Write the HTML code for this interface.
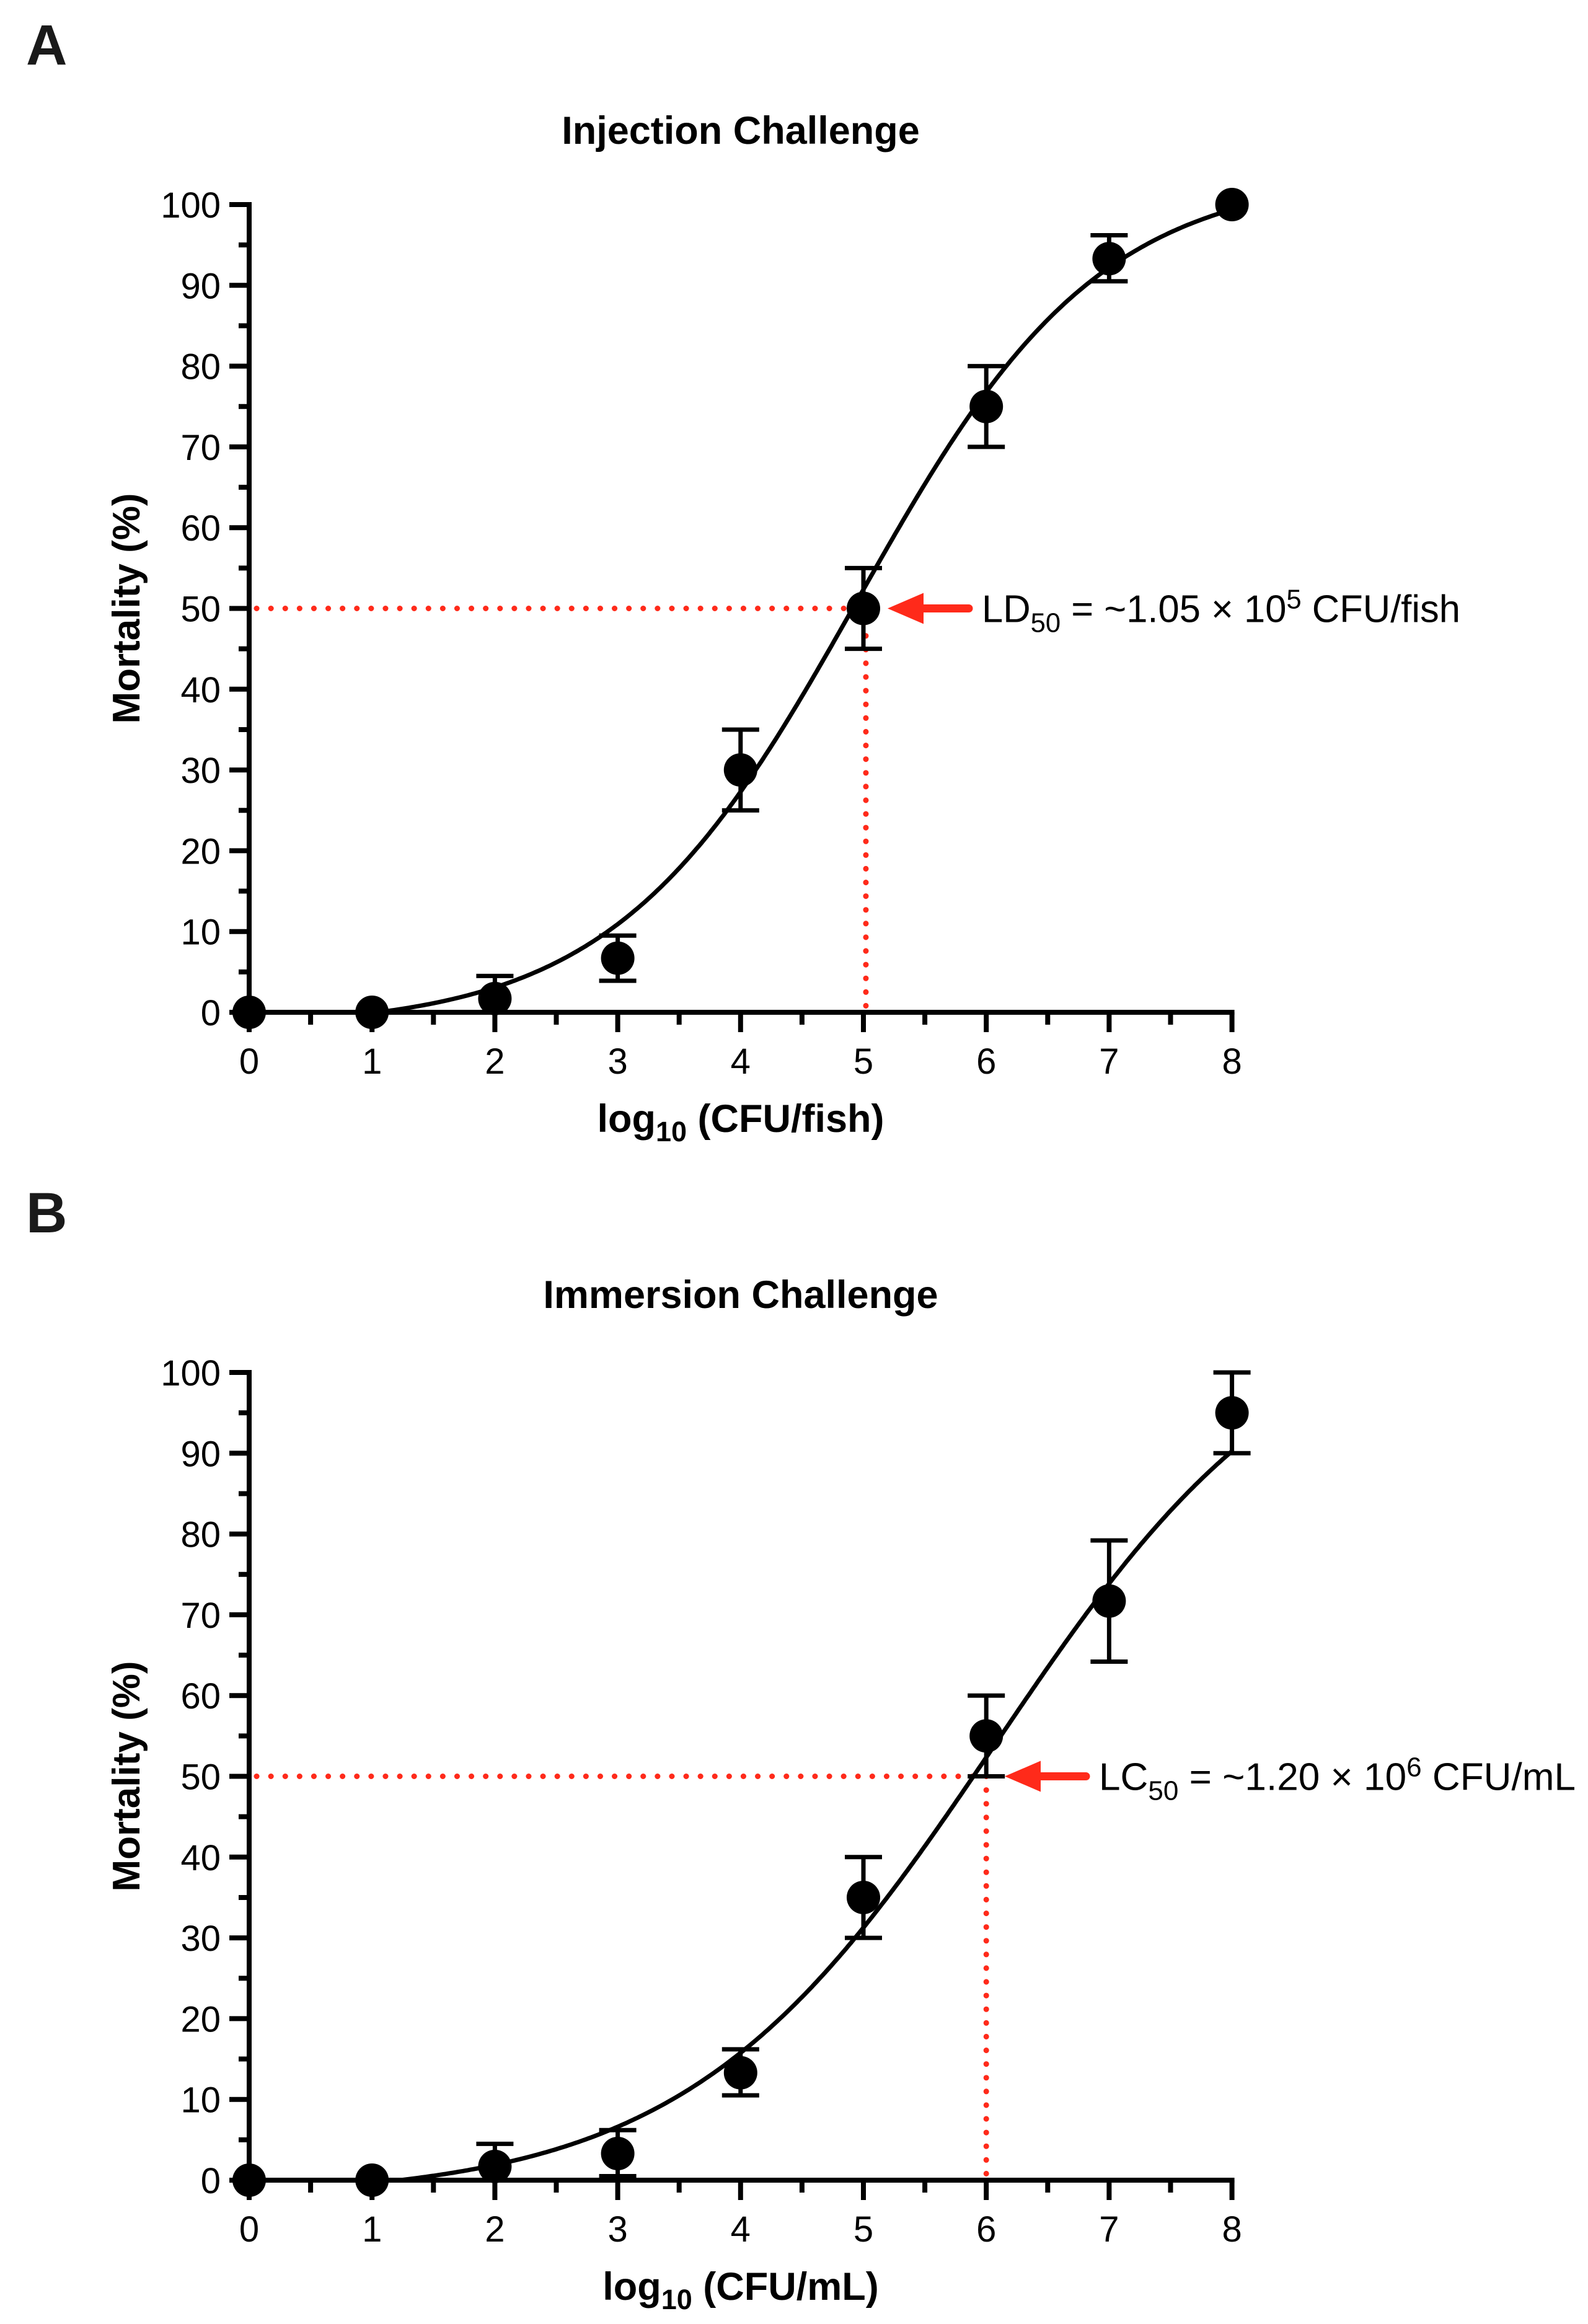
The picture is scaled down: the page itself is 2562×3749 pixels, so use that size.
<!DOCTYPE html>
<html><head><meta charset="utf-8"><style>
html,body{margin:0;padding:0;background:#fff;}
svg{display:block;font-family:"Liberation Sans",Arial,sans-serif;}
</style></head><body>
<svg id="fig" width="2562" height="3749" viewBox="0 0 2562 3749" xmlns="http://www.w3.org/2000/svg">
<rect width="2562" height="3749" fill="#fff"/>
</svg>
<script>
// ---- data ----
const xTicks = [0,1,2,3,4,5,6,7,8];
const yTicks = [0,10,20,30,40,50,60,70,80,90,100];
const doseA = [0,1,2,3,4,5,6,7,8];
const mortA = [0,0,1.7,6.7,30,50,75,93.3,100];
const errLoA = [0,0,0,3.9,25,45,70,90.5,100];
const errHiA = [0,0,4.5,9.5,35,55,80,96.2,100];
const fitA = [-2,104,4.95,0.44]; // bottom, top, logEC50, hill
const ld50A = 5.02;
const doseB = [0,1,2,3,4,5,6,7,8];
const mortB = [0,0,1.7,3.3,13.3,35,55,71.7,95];
const errLoB = [0,0,0,0.5,10.5,30,50,64.2,90];
const errHiB = [0,0,4.5,6.2,16.2,40,60,79.2,100];
const fitB = [-2.3,110,6.067,0.347];
const lc50B = 6.0;

const NS="http://www.w3.org/2000/svg";
const svg=document.getElementById('fig');
function mk(tag,attrs,parent){const e=document.createElementNS(NS,tag);for(const k in attrs)e.setAttribute(k,attrs[k]);(parent||svg).appendChild(e);return e;}

function panel(opt){
  const g=mk('g',{});
  
  
  const oy=opt.oy;
  const X0=402,XS=198.2,Y0=1633+oy,YS=13.03;
  const sx=v=>X0+v*XS, sy=v=>Y0-v*YS;
  const L=mk('text',{x:42,y:104+oy,'font-size':92,'font-weight':'bold',fill:'#1a1a1a'},g);L.textContent=opt.letter;
  
  
  const T=mk('text',{x:1195,y:opt.titleY,'font-size':63,'font-weight':'bold','text-anchor':'middle'},g);T.textContent=opt.title;
  
  
  const yv=sy(50), xv=sx(opt.x50);
  const h=mk('line',{x1:sx(0)+12,y1:yv,x2:xv,y2:yv,stroke:'#ff2a1a','stroke-width':9,'stroke-dasharray':'0.1 23','stroke-linecap':'round'},g);
  
  
  const v=mk('line',{x1:xv,y1:yv,x2:xv,y2:Y0,stroke:'#ff2a1a','stroke-width':9,'stroke-dasharray':'0.1 22','stroke-linecap':'round'},g);
  
  
  const ax=mk('g',{stroke:'#000','stroke-width':8,fill:'none'},g);
  
  
  mk('line',{x1:X0,y1:sy(100)-4,x2:X0,y2:Y0+4},ax);
  mk('line',{x1:X0-4,y1:Y0,x2:sx(8)+4,y2:Y0},ax);
  yTicks.forEach(t=>{
    mk('line',{x1:370,y1:sy(t),x2:X0,y2:sy(t)},ax);
    if(t<100) mk('line',{x1:385,y1:sy(t+5),x2:X0,y2:sy(t+5)},ax);
    const tx=mk('text',{x:356,y:sy(t)+21,'font-size':58,'text-anchor':'end',fill:'#000',stroke:'none'},g);tx.textContent=t;
    
    
  });
  xTicks.forEach(t=>{
    mk('line',{x1:sx(t),y1:Y0,x2:sx(t),y2:Y0+32},ax);
    if(t<8) mk('line',{x1:sx(t+0.5),y1:Y0,x2:sx(t+0.5),y2:Y0+20},ax);
    const tx=mk('text',{x:sx(t),y:1732+oy,'font-size':58,'text-anchor':'middle',fill:'#000',stroke:'none'},g);tx.textContent=t;
    
    
  });
  const yt=mk('text',{x:0,y:0,'font-size':62,'font-weight':'bold','text-anchor':'middle',transform:`translate(225,${(sy(100)+Y0)/2}) rotate(-90)`},g);
  yt.textContent='Mortality (%)';
  
  
  const xt=mk('text',{x:1195,y:1826+oy,'font-size':63,'font-weight':'bold','text-anchor':'middle'},g);
  xt.innerHTML='log<tspan font-size="45" dy="15">10</tspan><tspan dy="-15"> '+opt.xunit+'</tspan>';
  
  
  const f=opt.fit, fn=x=>f[0]+(f[1]-f[0])/(1+Math.pow(10,(f[2]-x)*f[3]));
  let d='';
  for(let i=0;i<=400;i++){const x=i*8/400,y=fn(x);if(y<0)continue;d+=(d?'L':'M')+sx(x).toFixed(1)+','+sy(y).toFixed(1);}
  const c=mk('path',{d:d,stroke:'#000','stroke-width':7,fill:'none'},g);
  
  
  opt.dose.forEach((x,i)=>{
    const eb=mk('g',{stroke:'#000','stroke-width':7},g);
    
    
    if(opt.hi[i]!==opt.lo[i]){
      mk('line',{x1:sx(x),y1:sy(opt.lo[i]),x2:sx(x),y2:sy(opt.hi[i])},eb);
      mk('line',{x1:sx(x)-30,y1:sy(opt.hi[i]),x2:sx(x)+30,y2:sy(opt.hi[i])},eb);
      if(opt.lo[i]>0) mk('line',{x1:sx(x)-30,y1:sy(opt.lo[i]),x2:sx(x)+30,y2:sy(opt.lo[i])},eb);
    }
    const p=mk('circle',{cx:sx(x),cy:sy(opt.mort[i]),r:27,fill:'#000'},g);
    
    
  });
  const a=opt.arrow;
  const ar=mk('g',{fill:'#ff2a1a'},g);
  
  
  mk('polygon',{points:`${a},${yv} ${a+58},${yv-25} ${a+58},${yv+25}`},ar);
  mk('line',{x1:a+50,y1:yv,x2:a+131,y2:yv,stroke:'#ff2a1a','stroke-width':13,'stroke-linecap':'round'},ar);
  const an=mk('text',{x:a+152,y:yv+22,'font-size':62,textLength:opt.textLen,lengthAdjust:'spacingAndGlyphs'},g);
  an.innerHTML=opt.label;
  
  
}

panel({name:'panel-a-injection',letter:'A',oy:0,title:'Injection Challenge',titleY:232,xunit:'(CFU/fish)',
  dose:doseA,mort:mortA,lo:errLoA,hi:errHiA,fit:fitA,x50:ld50A,arrow:1432,textLen:772,
  label:'LD<tspan font-size="44" dy="16">50</tspan><tspan dy="-16"> =  ~1.05 × 10</tspan><tspan font-size="44" dy="-22">5</tspan><tspan dy="22"> CFU/fish</tspan>'});
panel({name:'panel-b-immersion',letter:'B',oy:1884,title:'Immersion Challenge',titleY:2110,xunit:'(CFU/mL)',
  dose:doseB,mort:mortB,lo:errLoB,hi:errHiB,fit:fitB,x50:lc50B,arrow:1621,textLen:769,
  label:'LC<tspan font-size="44" dy="16">50</tspan><tspan dy="-16"> =  ~1.20 × 10</tspan><tspan font-size="44" dy="-22">6</tspan><tspan dy="22"> CFU/mL</tspan>'});
</script>
</body></html>
